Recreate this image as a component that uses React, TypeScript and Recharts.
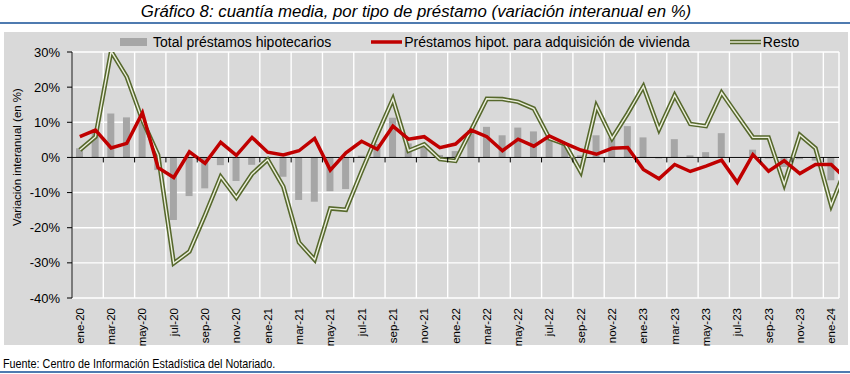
import { ComposedChart, Bar, Line, Scatter, XAxis, YAxis, CartesianGrid, ReferenceLine } from 'recharts';

const mesesNombres = ['ene', 'feb', 'mar', 'abr', 'may', 'jun', 'jul', 'ago', 'sep', 'oct', 'nov', 'dic'];
const anios = ['20', '21', '22', '23', '24'];

// ene-20 .. feb-24 (feb-24 only shows as the clipped end of the lines)
const meses: string[] = anios.flatMap((a) => mesesNombres.map((m) => `${m}-${a}`)).slice(0, 50);

const totalHipotecarios = [
  2.6, 8, 12.5, 11.4, 10, -3.6, -17.8, -11, -8.8, -2.2, -6.7, -2.1,
  -0.3, -5.5, -12.1, -12.6, -9.6, -9, 0.5, 3.8, 11.3, 4, 3.5, 0.7,
  1.8, 7.8, 8.7, 6.3, 8.5, 7.4, 5.4, 3.8, 0.6, 6.3, 5.7, 8.9,
  5.7, -0.3, 5.2, 0.6, 1.5, 6.9, 0, 2.2, -0.3, -2.7, -0.5, -0.9,
  -6.5, null,
];

const adquisicionVivienda = [
  5.9, 7.8, 2.7, 4, 12.7, -2.9, -5.7, 1.6, -1.7, 4.3, 0.6, 5.7,
  1.5, 0.7, 1.9, 5.4, -3.6, 1.3, 4.6, 2.3, 8.9, 5.2, 5.9, 2.8,
  3.8, 7.8, 5.9, 1.9, 5.2, 3.2, 6.1, 4, 2.1, 0.9, 2.6, 2.8,
  -3.4, -6.1, -2, -4, -2.5, -0.8, -7.1, 0.8, -3.9, -0.9, -4.6, -2,
  -2, -6.3,
];

const resto = [
  2.1, 5.9, 30.2, 22.9, 10.6, 0.7, -30.1, -26.8, -16.4, -5.5, -11.4, -4.7,
  -0.6, -8.3, -24.2, -29.1, -14.5, -14.9, -4, 6.5, 16.6, 1.9, 3.7, -0.5,
  -1, 7.8, 16.7, 16.6, 15.8, 13.9, 5.4, 3.8, -4.1, 14.6, 5.4, 12.5,
  20.2, 8, 17.7, 9.5, 8.9, 18.4, 12, 5.7, 5.7, -7.6, 6.4, 2.6,
  -13.6, -2.4,
];

const yTicks = [-40, -30, -20, -10, 0, 10, 20, 30];
const N = 49; // months on the axis: ene-20 .. ene-24

const data = meses.map((mes, i) => ({
  x: i + 0.5,
  mes,
  total: totalHipotecarios[i],
  vivienda: adquisicionVivienda[i],
  resto: resto[i],
}));

const labelTicks = meses.slice(0, N).map((_, i) => i + 0.5).filter((_, i) => i % 2 === 0);
const gridTicks = meses.slice(0, N).map((_, i) => i).filter((i) => i % 2 === 0 && i > 0);
const zeroTicks = gridTicks.map((x) => ({ x, y: 0 }));

const font = "'Liberation Sans', Arial, sans-serif";

const MonthTick = (props: any) => {
  const { x, y, payload } = props;
  const label = meses[Math.floor(payload.value)];
  return (
    <text x={x} y={y} transform={`rotate(-90 ${x} ${y})`} textAnchor="end" dy="0.35em" fontSize={11.5} fontFamily={font} fill="#000">
      {label}
    </text>
  );
};

const ZeroTick = (props: any) => {
  const { cx, cy } = props;
  return <line x1={cx} y1={cy} x2={cx} y2={cy + 5} stroke="#000" strokeWidth={1} />;
};

const LegendItem = ({ kind, text }: { kind: 'bar' | 'red' | 'green'; text: string }) => (
  <div style={{ display: 'flex', alignItems: 'center' }}>
    <svg width={31} height={10} style={{ marginRight: 2 }}>
      {kind === 'bar' && <rect x={0} y={1} width={27} height={8} fill="#a6a6a6" />}
      {kind === 'red' && <line x1={0} y1={5} x2={31} y2={5} stroke="#c00000" strokeWidth={3.5} />}
      {kind === 'green' && (
        <>
          <line x1={0} y1={5} x2={31} y2={5} stroke="#56682c" strokeWidth={4.5} />
          <line x1={0} y1={5} x2={31} y2={5} stroke="#eef1e0" strokeWidth={1.4} />
        </>
      )}
    </svg>
    <span>{text}</span>
  </div>
);

export default function App() {
  return (
    <div style={{ position: 'absolute', left: 0, top: 0, width: 850, height: 374, background: '#fff', fontFamily: font }}>
      <div style={{ position: 'absolute', left: 0, top: 2, width: 832, textAlign: 'center', fontSize: 16.8, fontStyle: 'italic', color: '#000' }}>
        Gráfico 8: cuantía media, por tipo de préstamo (variación interanual en %)
      </div>
      <div style={{ position: 'absolute', left: 0, top: 22, width: 850, height: 2, background: '#4f7bb0' }} />
      <div style={{ position: 'absolute', left: 4, top: 32, width: 844, height: 313, background: '#d9d9d9' }} />

      <div style={{ position: 'absolute', left: 0, top: 0 }}>
        <ComposedChart width={850} height={374} data={data} margin={{ top: 52, right: 11, bottom: 0, left: 0 }}>
          <CartesianGrid xAxisId="g" stroke="#ffffff" strokeWidth={1.4} vertical horizontal />
          <XAxis
            dataKey="x"
            type="number"
            domain={[0, N]}
            allowDataOverflow
            ticks={labelTicks}
            interval={0}
            tick={<MonthTick />}
            tickSize={0}
            tickMargin={10}
            axisLine={false}
            tickLine={false}
            height={76}
          />
          <XAxis xAxisId="g" dataKey="x" type="number" domain={[0, N]} allowDataOverflow ticks={gridTicks} hide />
          <YAxis
            domain={[-40, 30]}
            ticks={yTicks}
            allowDataOverflow
            width={72}
            tickFormatter={(v: number) => `${v}%`}
            tick={{ fill: '#000', fontSize: 13, fontFamily: font }}
            axisLine={{ stroke: '#000' }}
            tickLine={{ stroke: '#000' }}
            tickSize={5}
            tickMargin={7}
          />
          <YAxis yAxisId="t" dataKey="y" domain={[-40, 30]} allowDataOverflow hide />
          <Bar dataKey="total" fill="#a6a6a6" barSize={7} isAnimationActive={false} />
          <ReferenceLine y={0} stroke="#000" strokeWidth={1} />
          <Scatter xAxisId="g" yAxisId="t" data={zeroTicks} dataKey="y" shape={<ZeroTick />} isAnimationActive={false} />
          <Line dataKey="resto" stroke="#56682c" strokeWidth={4.5} dot={false} isAnimationActive={false} strokeLinejoin="miter" />
          <Line dataKey="resto" stroke="#eef1e0" strokeWidth={1.4} dot={false} isAnimationActive={false} strokeLinejoin="miter" />
          <Line dataKey="vivienda" stroke="#c00000" strokeWidth={3.5} dot={false} isAnimationActive={false} />
        </ComposedChart>
      </div>

      <div style={{ position: 'absolute', left: 120, top: 34, display: 'flex', gap: 40, fontSize: 14, color: '#000', whiteSpace: 'nowrap' }}>
        <LegendItem kind="bar" text="Total préstamos hipotecarios" />
        <LegendItem kind="red" text="Préstamos hipot. para adquisición de vivienda" />
        <LegendItem kind="green" text="Resto" />
      </div>

      <div style={{ position: 'absolute', left: 17, top: 157, transform: 'translate(-50%, -50%) rotate(-90deg)', fontSize: 11.5, whiteSpace: 'nowrap', color: '#000' }}>
        Variación interanual (en %)
      </div>

      <div style={{ position: 'absolute', left: 3, top: 356, fontSize: 13, transform: 'scaleX(0.83)', transformOrigin: 'left top', color: '#000', whiteSpace: 'nowrap' }}>
        Fuente: Centro de Información Estadística del Notariado.
      </div>
      <div style={{ position: 'absolute', left: 0, top: 371, width: 850, height: 1.5, background: '#4f7bb0' }} />
    </div>
  );
}
